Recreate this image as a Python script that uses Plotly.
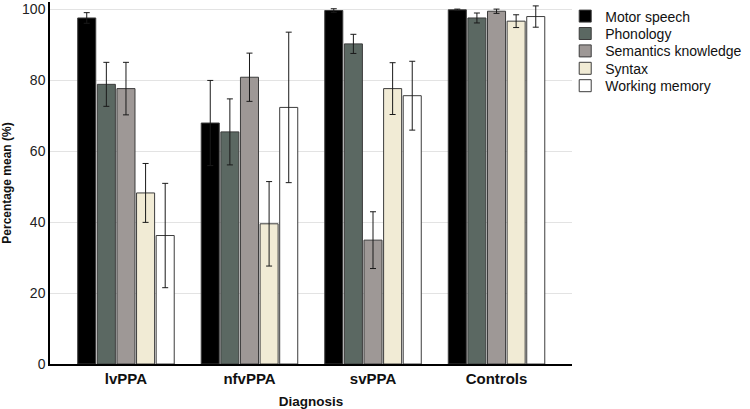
import plotly.graph_objects as go

categories = ["lvPPA", "nfvPPA", "svPPA", "Controls"]
series_names = ["Motor speech", "Phonology", "Semantics knowledge", "Syntax", "Working memory"]

motor_speech = [97.5, 67.9, 99.6, 99.8]
phonology = [78.8, 65.4, 90.2, 97.5]
semantics = [77.6, 80.8, 34.9, 99.4]
syntax = [48.2, 39.5, 77.6, 96.6]
working_memory = [36.2, 72.3, 75.6, 97.9]

motor_speech_err = [1.5, 12.0, 0.5, 0.2]
phonology_err = [6.2, 9.3, 2.7, 1.4]
semantics_err = [7.4, 6.8, 8.0, 0.6]
syntax_err = [8.3, 11.9, 7.3, 1.8]
working_memory_err = [14.7, 21.2, 9.7, 3.0]

y_ticks = [0, 20, 40, 60, 80, 100]

values = [motor_speech, phonology, semantics, syntax, working_memory]
errors = [motor_speech_err, phonology_err, semantics_err, syntax_err, working_memory_err]
colors = ["#000000", "#5b6862", "#9e9896", "#f1ebd5", "#ffffff"]

FONT = "Liberation Sans, Arial, sans-serif"
legend_ids = ["legend", "legend2", "legend3", "legend4", "legend5"]

fig = go.Figure()
for name, vals, errs, col, lid in zip(series_names, values, errors, colors, legend_ids):
    fig.add_trace(go.Bar(
        x=categories, y=vals, name=name, legend=lid, showlegend=True,
        marker=dict(color=col, line=dict(color="#3c3c3c", width=1)),
        error_y=dict(type="data", array=errs, visible=True, color="#1a1a1a", thickness=1, width=3),
    ))

PLOT_H = 363.0
legend_layout = {}
for i, lid in enumerate(legend_ids):
    center_px = 16.5 + 17.4 * i
    legend_layout[lid] = dict(
        x=0.987, y=1 - (center_px - 1) / PLOT_H, xanchor="left", yanchor="middle",
        font=dict(size=14, color="#111", family=FONT), bgcolor="rgba(0,0,0,0)",
        itemwidth=30,
    )

fig.update_layout(
    width=750, height=409,
    showlegend=True,
    margin=dict(l=50, r=178, t=1, b=45),
    plot_bgcolor="white", paper_bgcolor="white",
    barmode="group", bargap=0.206, bargroupgap=0.08,
    font=dict(family=FONT, size=14, color="#222"),
    xaxis=dict(range=[-0.615, 3.611], showline=True, linecolor="black", linewidth=1.5,
               ticks="", automargin=False,
               tickfont=dict(size=15, color="#111", family=FONT, weight="bold"),
               title=dict(text="<b>Diagnosis</b>", font=dict(size=13.5, color="#111"))),
    yaxis=dict(range=[0, 102], tickvals=y_ticks, showgrid=True, gridcolor="#e3e3e3",
               showline=True, linecolor="black", linewidth=1.5, ticks="", zeroline=False,
               automargin=False, tickfont=dict(size=14, color="#222"),
               title=dict(text="<b>Percentage mean (%)</b>", font=dict(size=12, color="#111"))),
    **legend_layout,
)

fig.write_html("out.html", config={"displayModeBar": False},
               post_script="document.body.style.margin='0';")
